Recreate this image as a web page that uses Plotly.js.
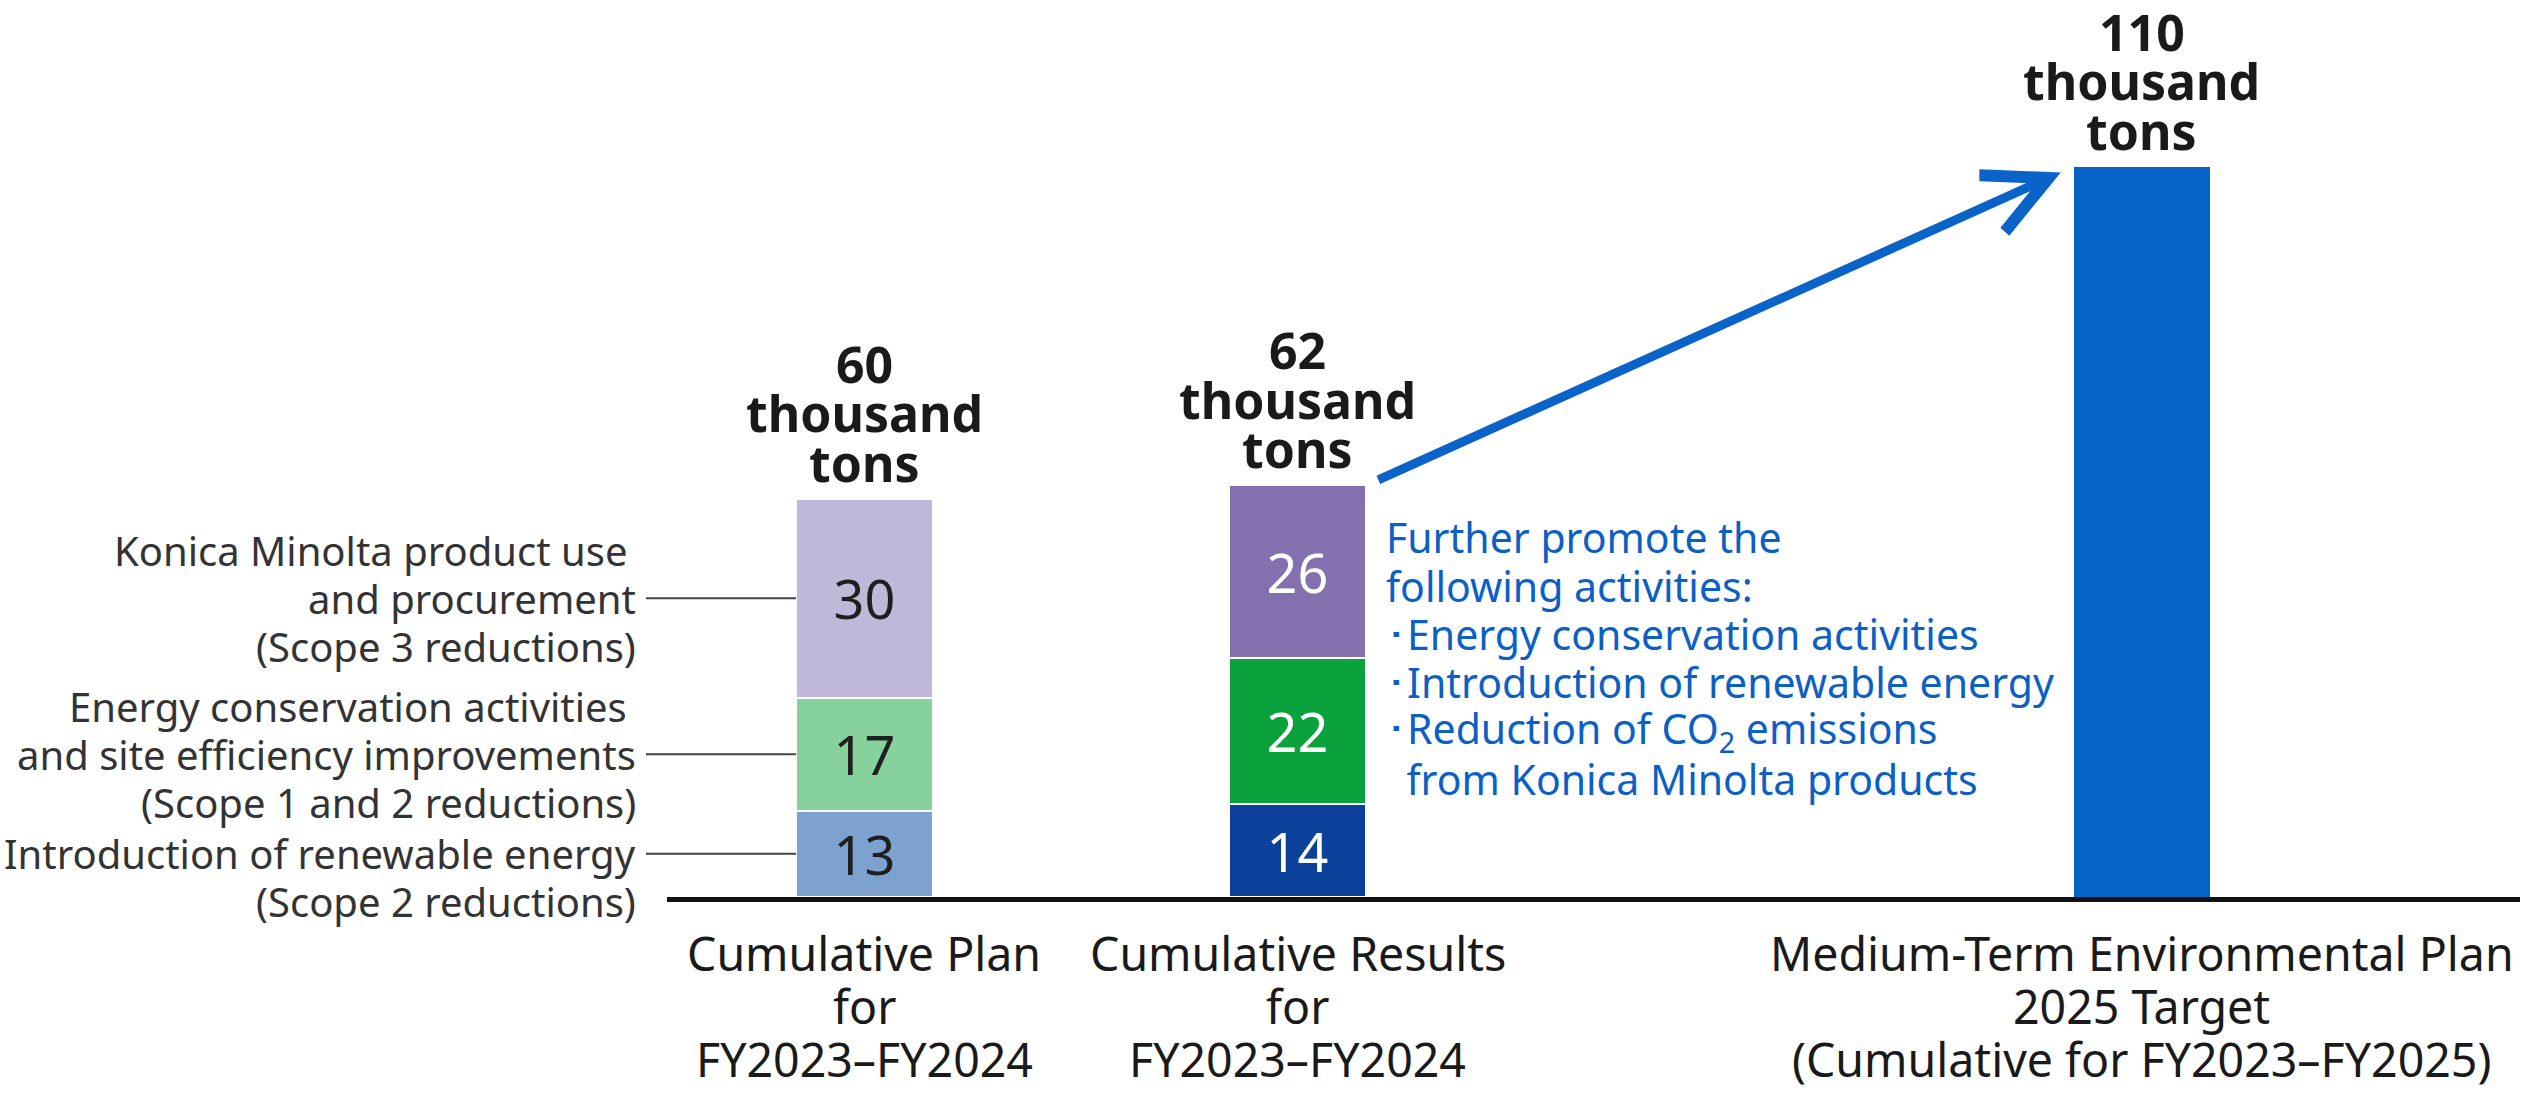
<!DOCTYPE html>
<html>
<head>
<meta charset="utf-8">
<script src="https://cdn.plot.ly/plotly-3.0.1.min.js"></script>
<style>html,body{margin:0;padding:0;background:#fff;}#chart{width:2536px;height:1093px;}</style>
</head>
<body>
<div id="chart"></div>
<script>
// ---------- data ----------
const categories = [
  ['Cumulative Plan', 'for', 'FY2023–FY2024'],
  ['Cumulative Results', 'for', 'FY2023–FY2024'],
  ['Medium-Term Environmental Plan', '2025 Target', '(Cumulative for FY2023–FY2025)']
];
const renewable = [13, 14];          // Scope 2 reductions (thousand tons)
const energyConservation = [17, 22]; // Scope 1 and 2 reductions
const productUse = [30, 26];         // Scope 3 reductions
const target = [110];                // 2025 target
const totals = [60, 62, 110];
const totalUnit = ['thousand', 'tons'];
const segmentLabels = [
  ['Introduction of renewable energy', '(Scope 2 reductions)'],
  ['Energy conservation activities', 'and site efficiency improvements', '(Scope 1 and 2 reductions)'],
  ['Konica Minolta product use', 'and procurement', '(Scope 3 reductions)']
];
const activities = [
  'Further promote the',
  'following activities:',
  '･Energy conservation activities',
  '･Introduction of renewable energy',
  '･Reduction of CO<sub>2</sub> emissions',
  '\u2002from Konica Minolta products'
];

// ---------- layout constants ----------
const xPos = [0, 1, 2.95];
const barW = 0.316;
const xRange = [-0.456, 3.823];
const yRange = [0, 132.1];
const FONT = 'Noto Sans, sans-serif';

const planColors = ['#7ea2cf', '#86d19c', '#c0b8d9'];
const resultColors = ['#0b409b', '#09a23c', '#8470ae'];
const targetColor = '#0563c6';
const blue = '#0b5fc5';

function stackTrace(vals, idx) {
  return {
    type: 'bar',
    x: xPos.slice(0, 2),
    y: vals,
    width: barW,
    text: vals.map(String),
    textposition: 'inside',
    insidetextanchor: 'middle',
    constraintext: 'none',
    textangle: 0,
    textfont: {family: FONT, size: 54, color: ['#1f1f1f', '#ffffff']},
    marker: {color: [planColors[idx], resultColors[idx]], line: {color: '#ffffff', width: 2}},
    hoverinfo: 'skip',
    showlegend: false
  };
}

const data = [
  stackTrace(renewable, 0),
  stackTrace(energyConservation, 1),
  stackTrace(productUse, 2),
  {
    type: 'bar', x: [xPos[2]], y: target, width: barW,
    marker: {color: targetColor, line: {width: 0}},
    hoverinfo: 'skip', showlegend: false
  }
];

const annotations = [];
// one annotation per line so the tight leading of the original can be kept
function addLines(lines, base, firstShift, step, font, xshifts) {
  lines.forEach((txt, j) => {
    annotations.push(Object.assign({}, base, {
      text: txt, showarrow: false, yanchor: 'middle',
      yshift: firstShift - j * step, font: font,
      xshift: (base.xshift || 0) + (xshifts ? xshifts[j] : 0)
    }));
  });
}

// total labels above bars
totals.forEach((t, i) => {
  addLines([String(t)].concat(totalUnit),
    {x: xPos[i], y: t, xref: 'x', yref: 'y', xanchor: 'center'},
    135, 49.5, {family: FONT, size: 50, color: '#1a1a1a', weight: 'bold'});
});

// left-side segment descriptions with leader lines
const shapes = [];
const span = xRange[1] - xRange[0];
const toPaper = v => (v - xRange[0]) / span;
const barLeftPaper = toPaper(xPos[0] - barW / 2);
const plotW = 2520 - 667;
const leaderStart = -21 / plotW;
const labelRight = -29 / plotW;
const planSegs = [renewable[0], energyConservation[0], productUse[0]];
let base = 0;
planSegs.forEach((v, k) => {
  const mid = base + v / 2;
  base += v;
  shapes.push({
    type: 'line', xref: 'paper', yref: 'y',
    x0: leaderStart, x1: barLeftPaper, y0: mid, y1: mid,
    line: {color: '#444', width: 2}
  });
  const lines = segmentLabels[k];
  const three = lines.length === 3;
  addLines(lines,
    {x: labelRight, y: mid, xref: 'paper', yref: 'y', xanchor: 'right', align: 'right'},
    three ? 48 : 0, 48, {family: FONT, size: 40, color: '#333333'},
    three ? [-9, 0, 0] : [0, 0]);
});

// activities text
addLines(activities,
  {x: xPos[1] + barW / 2, y: renewable[1] + energyConservation[1], xref: 'x', yref: 'y',
   xanchor: 'left', xshift: 18, align: 'left'},
  2.5 * 48.3, 48.3, {family: FONT, size: 41, color: blue});

// category labels under the axis
categories.forEach((lines, i) => {
  addLines(lines,
    {x: xPos[i], y: 0, xref: 'x', yref: 'y', xanchor: 'center', align: 'center'},
    -56, 53, {family: FONT, size: 46.5, color: '#1a1a1a'});
});

// arrow from results bar to target bar
annotations.push({
  x: xPos[2] - barW / 2, y: target[0], xref: 'x', yref: 'y',
  ax: xPos[1] + barW / 2, ay: totals[1], axref: 'x', ayref: 'y',
  text: '', showarrow: true, arrowhead: 5, arrowsize: 1.35, arrowwidth: 9,
  arrowcolor: '#0a63c9', standoff: 14, startstandoff: 12
});

const layout = {
  width: 2536, height: 1093,
  margin: {l: 667, r: 16, t: 20, b: 196},
  paper_bgcolor: '#ffffff', plot_bgcolor: '#ffffff',
  barmode: 'stack',
  bargap: 0,
  xaxis: {
    range: xRange, showgrid: false, zeroline: false,
    showline: true, linecolor: '#111111', linewidth: 5,
    tickvals: xPos, showticklabels: false, ticks: '',
    fixedrange: true
  },
  yaxis: {range: yRange, visible: false, fixedrange: true},
  annotations: annotations,
  shapes: shapes,
  showlegend: false
};

Plotly.newPlot('chart', data, layout, {displayModeBar: false, staticPlot: true});
</script>
</body>
</html>
